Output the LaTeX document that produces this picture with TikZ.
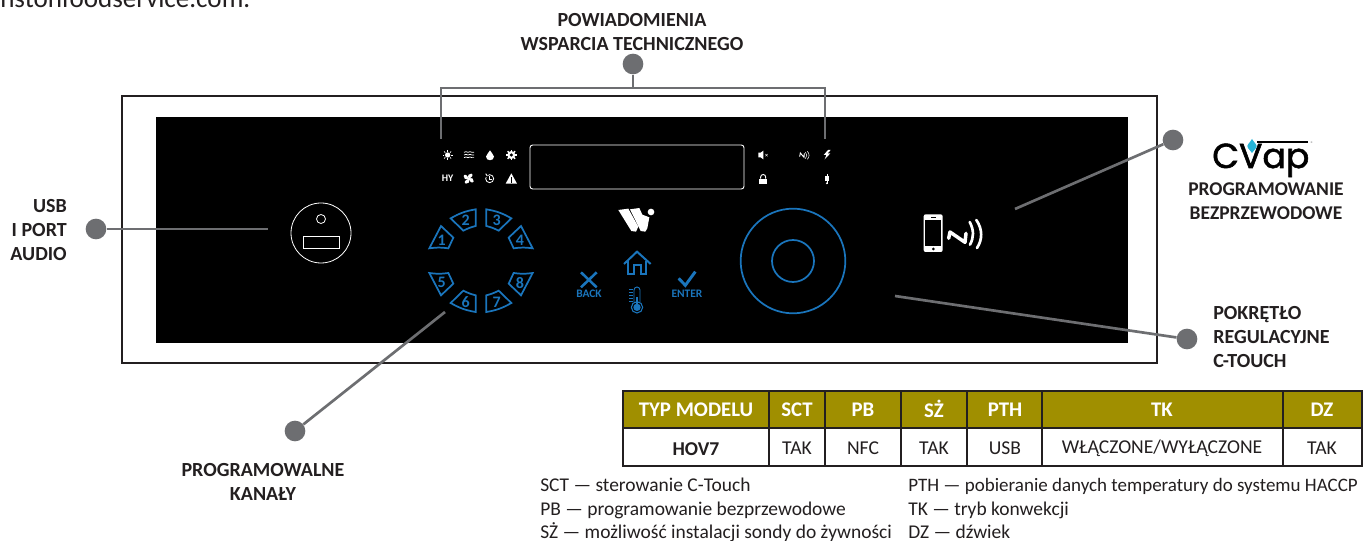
\documentclass[tikz,border=0pt]{standalone}
\usepackage{fontspec}
\setmainfont{Carlito}
\newfontfamily\logofont[FakeBold=1.6]{Poppins}
\usetikzlibrary{calc}
\definecolor{ledblue}{HTML}{1A75BC}
\definecolor{dotgray}{HTML}{6D6E71}
\definecolor{olivehd}{HTML}{A08F00}
\definecolor{inkc}{HTML}{231F20}
\definecolor{dropblue}{HTML}{27B5D8}
\newcommand{\lab}{\fontsize{15pt}{18pt}\selectfont\bfseries}
\tikzset{
  lead/.style={draw=dotgray,line width=2pt},
  dotn/.style={circle,fill=dotgray,minimum size=15.5pt,inner sep=0pt},
  lbl/.style={text=inkc,font=\lab,align=center,inner sep=0pt},
  hcell/.style={text=white,font=\fontsize{15.6pt}{17pt}\selectfont\bfseries,inner sep=0pt},
  bcell/.style={text=inkc,font=\fontsize{14.7pt}{17pt}\selectfont,inner sep=0pt},
  note/.style={text=inkc,font=\fontsize{14.6pt}{17pt}\selectfont,inner sep=0pt,anchor=base west},
  keyb/.style={draw=ledblue,line width=1.3pt,line join=miter},
  keyn/.style={text=ledblue,font=\fontsize{12pt}{12pt}\selectfont\bfseries,inner sep=0pt},
  bluetxt/.style={text=ledblue,font=\fontsize{8.6pt}{9pt}\selectfont\bfseries,inner sep=0pt},
  wicon/.style={white,line width=.5pt},
  blueic/.style={draw=ledblue,line join=miter},
}
\begin{document}
\begin{tikzpicture}[x=0.75pt,y=-0.75pt]
\useasboundingbox (0,0) rectangle (1364,541);
\clip (0,0) rectangle (1364,541);
\fill[white] (0,0) rectangle (1364,541);
\node[anchor=base west,inner sep=0pt,text=inkc,font=\fontsize{20.3pt}{22pt}\selectfont] (cutoff) at (0,8) {nstonfoodservice.com.};
% frame and panel
\draw[inkc,line width=1.1pt] (122,96) rectangle (1157,363);
\fill[black] (156,117) rectangle (1128,343);
% USB
\node[circle,draw=white,line width=.6pt,minimum size=45pt,inner sep=0pt] (usbc) at (321,233) {};
\draw[white,line width=.6pt] (321,219) circle[radius=4.5];
\draw[white,line width=.6pt] (303,236) rectangle (339,248);
% display
\draw[white,line width=.7pt,rounded corners=2pt] (530,145) rectangle (744,189);
% dial
\node[circle,draw=ledblue,line width=1.3pt,minimum size=78.5pt,inner sep=0pt] (dial) at (793,261) {};
\node[circle,draw=ledblue,line width=1.3pt,minimum size=31.5pt,inner sep=0pt] (dialin) at (793,261) {};
% icons, left group, in zoom coordinates
\begin{scope}[shift={(410,130)},x=0.25pt,y=-0.25pt]
 % keys
 \draw[keyb] (58,355) to[bend left=8] (115,355) -- (130,323) -- (93,288) -- cycle;
 \draw[keyb] (122,265) to[bend left=10] (197,238) -- (197,288) to[bend right=6] (160,302) -- cycle;
 \draw[keyb] (304,265) to[bend right=10] (229,238) -- (229,288) to[bend left=6] (266,302) -- cycle;
 \draw[keyb] (368,355) to[bend right=8] (311,355) -- (296,323) -- (333,288) -- cycle;
 \draw[keyb] (58,429) to[bend right=8] (115,429) -- (130,461) -- (93,496) -- cycle;
 \draw[keyb] (122,519) to[bend right=10] (197,546) -- (197,496) to[bend left=6] (160,482) -- cycle;
 \draw[keyb] (304,519) to[bend left=10] (229,546) -- (229,496) to[bend right=6] (266,482) -- cycle;
 \draw[keyb] (368,429) to[bend left=8] (311,429) -- (296,461) -- (333,496) -- cycle;
 \node[keyn] (k1) at (95,331) {1};
 \node[keyn] (k2) at (167,270) {2};
 \node[keyn] (k3) at (260,270) {3};
 \node[keyn] (k4) at (330,331) {4};
 \node[keyn] (k5) at (95,458) {5};
 \node[keyn] (k6) at (167,517) {6};
 \node[keyn] (k7) at (260,517) {7};
 \node[keyn] (k8) at (330,458) {8};
 % sun
 \fill[white] (113,75) circle[radius=8];
 \foreach \a in {0,45,...,315} \draw[wicon] ($(113,75)+(\a:10)$) -- ($(113,75)+(\a:15)$);
 % waves
 \foreach \yy in {67,75,83} \draw[wicon] (162,\yy) -- (168,\yy-2) -- (174,\yy) -- (180,\yy-2) -- (186,\yy) -- (192,\yy);
 % drop
 \fill[white] (240,61) .. controls (244,70) and (252,74) .. (252,80) .. controls (252,94) and (228,94) .. (228,80) .. controls (228,74) and (236,70) .. (240,61) -- cycle;
 % gear
 \fill[white] (304,75) circle[radius=12];
 \foreach \a in {0,45,...,315} \draw[white,line width=1.1pt] ($(304,75)+(\a:10)$) -- ($(304,75)+(\a:16)$);
 \fill[black] (304,75) circle[radius=5];
 % HY
 \node[text=white,font=\fontsize{7.5pt}{8pt}\selectfont\bfseries,inner sep=0pt] (hy) at (113,146) {HY};
 % fan
 \foreach \a in {0,90,180,270} \fill[white,rotate around={\a:(176,146)}] (176,146) .. controls (172,136) and (176,130) .. (184,131) .. controls (191,133) and (188,142) .. cycle;
 \fill[white] (176,146) circle[radius=4];
 % clock
 \draw[white,line width=.6pt] (239,146) circle[radius=12];
 \draw[white,line width=.5pt] (239,139) -- (239,147) -- (247,147);
 \fill[black] (224,140) -- (230,130) -- (236,132) -- (230,142) -- cycle;
 \draw[white,line width=.7pt] (227,131) -- (232,138);
 % warning
 \fill[white] (304,130) -- (321,161) -- (287,161) -- cycle;
 \fill[black] (302.5,141) rectangle (305.5,152);
 \fill[black] (302.5,154) rectangle (305.5,158);
 % W logo
 \fill[white] (625,240) -- (655,236) -- (685,290) -- (678,305) -- (664,303) -- cycle;
 \fill[white] (660,238) -- (688,234) -- (697,254) -- (718,262) -- (712,295) -- (706,305) -- (692,303) -- cycle;
 \fill[white] (723,246) circle[radius=10];
 % home
 \draw[blueic,line width=1.5pt] (642,402) -- (681,365) -- (722,402);
 \draw[blueic,line width=1.5pt] (655,392) -- (655,431) -- (671,431) -- (671,405) -- (692,405) -- (692,431) -- (708,431) -- (708,392);
 % X
 \draw[blueic,line width=1.9pt] (513,427) -- (560,472);
 \draw[blueic,line width=1.9pt] (560,427) -- (513,472);
 \node[bluetxt] (backt) at (537,490) {BACK};
 % check
 \draw[blueic,line width=2.2pt] (806,445) -- (826,466) -- (856,425);
 \node[bluetxt] (entert) at (831,490) {ENTER};
 % thermometer
 \draw[blueic,line width=.7pt] (672,516) -- (672,480) arc[start angle=180,end angle=360,radius=9] -- (690,516);
 \draw[ledblue,line width=.8pt] (681,532) circle[radius=17];
 \fill[ledblue] (681,532) circle[radius=11];
 \fill[ledblue] (678,500) rectangle (684,525);
 \foreach \yy in {478,487,...,514} \draw[ledblue,line width=.35pt] (658,\yy) -- (669,\yy);
\end{scope}
\begin{scope}[shift={(720,130)},x=0.25pt,y=-0.25pt]
 % speaker
 \fill[white] (115,68) -- (122,68) -- (130,62) -- (130,88) -- (122,82) -- (115,82) -- cycle;
 \draw[white,line width=.3pt] (136,72) -- (143,79) (143,72) -- (136,79);
 % lock
 \fill[white] (117,146) rectangle (142,161);
 \draw[white,line width=.7pt] (122,146) -- (122,141) arc[start angle=180,end angle=360,radius=7.5] -- (137,146);
 % small nfc
 \draw[white,line width=.7pt] (239,80) -- (241,69) -- (252,82) -- (253,70);
 \draw[white,line width=.4pt] (256,66) .. controls (262,72) and (262,80) .. (256,86);
 \draw[white,line width=.4pt] (262,64) .. controls (269,72) and (269,80) .. (262,88);
 % bolt
 \fill[white] (324,60) -- (332,60) -- (323,70) -- (331,70) -- (314,88) -- (319,75) -- (311,75) -- cycle;
 % usb symbol
 \fill[white] (314,139) rectangle (327,154);
 \draw[white,line width=.4pt] (320.5,132) -- (320.5,162);
 \fill[white] (320.5,160) circle[radius=3];
 % phone
 \fill[white,rounded corners=1.5pt] (611,253) rectangle (668,366);
 \fill[black] (616,270) rectangle (663,348);
 \fill[black] (640,357) circle[radius=4.5];
 \fill[black] (632,261) rectangle (648,264);
 % large nfc
 \draw[white,line width=2.6pt,line join=round,line cap=round] (686,325) -- (690,306) -- (735,337) -- (738,310);
 \draw[white,line width=2pt,line cap=round] (749,276) .. controls (762,300) and (762,322) .. (750,344);
 \draw[white,line width=2pt,line cap=round] (769,270) .. controls (788,298) and (788,328) .. (771,354);
\end{scope}
% connectors
\node[dotn] (dusb) at (96,229) {};
\coordinate (eusb) at (268,229);
\draw[lead] (dusb) -- (eusb);
\node[dotn] (dtop) at (633,64) {};
\coordinate (jtop) at (633,88);
\coordinate (tl) at (441,88);
\coordinate (tr) at (825,88);
\coordinate (tld) at (441,138);
\coordinate (trd) at (825,138);
\draw[lead] (dtop) -- (jtop);
\draw[lead,line cap=rect] (tld) -- (tl) -- (tr) -- (trd);
\node[dotn] (dkan) at (295,431) {};
\coordinate (ekan) at (445,312);
\draw[lead] (dkan) -- (ekan);
\node[dotn] (dpok) at (1187,339) {};
\coordinate (epok) at (895,296);
\draw[lead] (dpok) -- (epok);
\node[dotn] (dnfc) at (1173,140) {};
\coordinate (enfc) at (1015,209);
\draw[lead] (dnfc) -- (enfc);
% labels
\node[lbl] (ltop) at (632,32) {POWIADOMIENIA\\WSPARCIA TECHNICZNEGO};
\node[lbl,align=right,anchor=east] (lusb) at (67,230) {USB\\I PORT\\AUDIO};
\node[lbl] (lkan) at (263,482) {PROGRAMOWALNE\\KANAŁY};
\node[lbl,align=left,anchor=west] (lpok) at (1213,337) {POKRĘTŁO\\REGULACYJNE\\C-TOUCH};
\node[lbl,font=\fontsize{14.6pt}{18pt}\selectfont\bfseries] (lnfc) at (1266,201) {PROGRAMOWANIE\\BEZPRZEWODOWE};
% cvap logo
\node[anchor=base west,inner sep=0pt,text=black,font=\logofont\fontsize{26pt}{26pt}\selectfont] (cvap) at (1212,168) {CVap};
\draw[black,line width=1.8pt] (1257,142) -- (1308,142);
\fill[dropblue] (1252,139) .. controls (1255,144) and (1258,145) .. (1256,148) -- (1252,153) -- (1248,148) .. controls (1246,145) and (1249,144) .. (1252,139) -- cycle;
\node[text=dotgray,inner sep=0pt,font=\fontsize{4pt}{4pt}\selectfont] (regm) at (1312,144) {®};
% table
\fill[olivehd] (623,391) rectangle (1362,428);
\fill[white] (623,428) rectangle (1362,466);
\draw[inkc,line width=.9pt] (623,391) rectangle (1362,466);
\draw[inkc,line width=.9pt] (623,428) -- (1362,428);
\foreach \xx in {769,825,901,967,1042,1283} \draw[inkc,line width=.9pt] (\xx,391) -- (\xx,466);
\node[hcell] (h1) at (696,410) {TYP MODELU};
\node[hcell] (h2) at (797,410) {SCT};
\node[hcell] (h3) at (863,410) {PB};
\node[hcell] (h4) at (934,409) {SŻ};
\node[hcell] (h5) at (1005,410) {PTH};
\node[hcell] (h6) at (1162,410) {TK};
\node[hcell] (h7) at (1322,410) {DZ};
\node[bcell,font=\fontsize{14.7pt}{17pt}\selectfont\bfseries] (b1) at (696,449) {HOV7};
\node[bcell] (b2) at (797,448) {TAK};
\node[bcell] (b3) at (863,448) {NFC};
\node[bcell] (b4) at (934,448) {TAK};
\node[bcell] (b5) at (1005,448) {USB};
\node[bcell] (b6) at (1162,448) {WŁĄCZONE/WYŁĄCZONE};
\node[bcell] (b7) at (1322,448) {TAK};
% notes
\node[note] (n1) at (540,491.5) {SCT — sterowanie C-Touch};
\node[note] (n2) at (540,515) {PB — programowanie bezprzewodowe};
\node[note] (n3) at (540,538) {SŻ — możliwość instalacji sondy do żywności};
\node[note,font=\fontsize{14.25pt}{17pt}\selectfont] (n4) at (908,491.5) {PTH — pobieranie danych temperatury do systemu HACCP};
\node[note] (n5) at (908,515) {TK — tryb konwekcji};
\node[note] (n6) at (908,538) {DZ — dźwiek};
\end{tikzpicture}
\end{document}
